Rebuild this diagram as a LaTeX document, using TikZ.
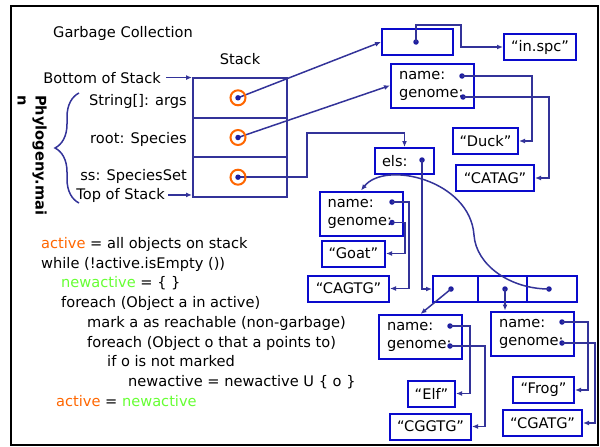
\documentclass[tikz,border=0pt]{standalone}
\usepackage{fontspec}
\setmainfont{DejaVu Sans}
\usetikzlibrary{arrows.meta,decorations.pathreplacing,calc}
\definecolor{linkblue}{RGB}{51,51,153}
\definecolor{boxblue}{RGB}{10,10,204}
\definecolor{dotblue}{RGB}{30,30,160}
\definecolor{actorange}{RGB}{255,102,0}
\definecolor{newgreen}{RGB}{102,255,51}
\begin{document}
\begin{tikzpicture}[x=1pt,y=-1pt,
  every node/.style={font=\fontsize{14.6}{18}\selectfont, text=black},
  conn/.style={draw=linkblue, line width=1.5pt, -{Latex[length=6pt,width=5pt]}},
  cell/.style={draw=linkblue, line width=2pt, minimum width=94pt, minimum height=39.7pt, inner sep=0},
  objbox/.style={draw=boxblue, line width=2pt, inner sep=0, minimum height=26pt},
  spbox/.style={draw=boxblue, line width=2pt, minimum width=83pt, minimum height=44pt,
    text width=67pt, inner xsep=8pt, inner ysep=0pt, align=left},
  ptr/.style={circle, fill=dotblue, inner sep=0, minimum size=5.5pt},
  stackref/.style={circle, draw=actorange, line width=2pt, inner sep=0, minimum size=15pt},
  codeline/.style={anchor=base west, inner sep=0},
  stacklabel/.style={anchor=base east, inner sep=0}
]
\useasboundingbox (0,0) rectangle (600,447);
% outer frame
\draw[line width=2pt] (11,6) rectangle (598,445);

% headings
\node[anchor=base west, inner sep=0] (title) at (53,37.3) {Garbage Collection};
\node[anchor=base, inner sep=0] (stk) at (240,64) {Stack};

% the stack frame of Phylogeny.main
\node[cell] (cell1) at (240,97.8) {};
\node[cell] (cell2) at (240,137.5) {};
\node[cell] (cell3) at (240,177.2) {};

\node[stacklabel] (bos) at (161,83) {Bottom of Stack};
\node[stacklabel] (lab1) at (187,105.5) {String[]: args};
\node[stacklabel] (lab2) at (187,143) {root: Species};
\node[stacklabel] (lab3) at (187,180) {ss: SpeciesSet};
\node[stacklabel] (tos) at (165,199) {Top of Stack};
\draw[conn, shorten <=5pt] (bos.east) -- (bos.east -| cell1.west);
\draw[conn, shorten <=3pt] (tos.east) -- (tos.east -| cell3.west);

\draw[draw=linkblue, line width=1.5pt, decorate, decoration={brace, amplitude=24pt}]
  (79,203) -- (79,93);
\node[rotate=-90, anchor=north west, align=left, inner sep=0,
  font=\fontsize{14.6}{18}\selectfont\bfseries] (meth) at (47,95) {Phylogeny.mai\\n};

% heap objects
\node[objbox, minimum width=71pt] (argbox) at (417.5,42) {};
\node[ptr] (argdot) at (416,42) {};
\node[objbox, minimum width=72pt] (inspc) at (540,47) {“in.spc”};

\node[spbox] (rbox) at (432.5,85.5) {name:\\genome:};
\node[ptr] (rn) at (462,76) {};
\node[ptr] (rg) at (463,97) {};
\node[objbox, minimum width=65pt] (duck) at (485.5,141) {“Duck”};
\node[objbox, minimum width=78pt] (catag) at (495,178) {“CATAG”};

\node[objbox, minimum width=59pt, text width=45pt, inner xsep=7pt, align=left] (els) at (404.5,161) {els:};
\node[ptr] (eldot) at (422,160) {};

\node[objbox, minimum width=45pt] (arr1) at (455.5,289) {};
\node[objbox, minimum width=49pt] (arr2) at (502.5,289) {};
\node[objbox, minimum width=50pt] (arr3) at (552,289) {};
\node[ptr] (a1) at (451,289) {};
\node[ptr] (a2) at (505,289) {};
\node[ptr] (a3) at (549,289) {};

\node[spbox] (gbox) at (361,213.5) {name:\\genome:};
\node[ptr] (gn) at (392,202) {};
\node[ptr] (gg) at (392,222.5) {};
\node[objbox, minimum width=63pt] (goat) at (353.5,253.5) {“Goat”};
\node[objbox, minimum width=81pt] (cagtg) at (348.5,288.5) {“CAGTG”};

\node[spbox] (ebox) at (420.5,337) {name:\\genome:};
\node[ptr] (en) at (450,326) {};
\node[ptr] (eg) at (450,346) {};
\node[objbox, minimum width=47pt] (elf) at (431.5,393.5) {“Elf”};
\node[objbox, minimum width=81pt] (cggtg) at (430.5,426.5) {“CGGTG”};

\node[spbox] (fbox) at (532.5,333.5) {name:\\genome:};
\node[ptr] (fn) at (562,322) {};
\node[ptr] (fg) at (562,343) {};
\node[objbox, minimum width=61pt] (frog) at (543.5,390) {“Frog”};
\node[objbox, minimum width=79pt] (cgatg) at (542.5,423) {“CGATG”};

% references held by the stack
\draw[conn] (238,97.8) -- (argbox.west);
\draw[conn] (238,137.5) -- (rbox.west);
\draw[conn] (238,177.2) -| ++(69,-44) -| (els.north);
\node[stackref] (oc1) at (238,97.8) {};
\node[stackref] (oc2) at (238,137.5) {};
\node[stackref] (oc3) at (238,177.2) {};
\node[ptr] (sd1) at (oc1) {};
\node[ptr] (sd2) at (oc2) {};
\node[ptr] (sd3) at (oc3) {};

% references between heap objects
\draw[conn] (argdot.center) -- ++(0,-17) -| ($(inspc.west)+(-42,0)$) -- (inspc.west);
\draw[conn] (rn.center) -- ++(70,0) |- (duck.east);
\draw[conn] (rg.center) -- ++(86,0) |- (catag.east);
\draw[conn] (eldot.center) |- (arr1.west);
\draw[conn] (a1.center) -- (ebox.north);
\draw[conn] (a2.center) -- (a2.center |- fbox.north);
\draw[conn] (a3.center) .. controls (510,289) and (476,265) .. (474,235)
  .. controls (470,180) and (385,160) .. (gbox.north);
\draw[conn] (gn.center) -- ++(17,0) |- (cagtg.east);
\draw[conn] (gg.center) -- ++(13,0) |- (goat.east);
\draw[conn] (en.center) -- ++(20,0) |- (elf.east);
\draw[conn] (eg.center) -- ++(35,0) |- (cggtg.east);
\draw[conn] (fn.center) -- ++(26,0) |- (frog.east);
\draw[conn] (fg.center) -- ++(33,0) |- (cgatg.east);

% the marking algorithm
\node[codeline] (c1) at (41,248.3) {\textcolor{actorange}{active} = all objects on stack};
\node[codeline] (c2) at (41,268) {while (!active.isEmpty ())};
\node[codeline] (c3) at (61,287.8) {\textcolor{newgreen}{newactive} = \{ \}};
\node[codeline] (c4) at (61,307.5) {foreach (Object a in active)};
\node[codeline] (c5) at (87,327.3) {mark a as reachable (non-garbage)};
\node[codeline] (c6) at (87,347) {foreach (Object o that a points to)};
\node[codeline] (c7) at (107,366.8) {if o is not marked};
\node[codeline] (c8) at (128,386.5) {newactive = newactive U \{ o \}};
\node[codeline] (c9) at (56,406.3) {\textcolor{actorange}{active} = \textcolor{newgreen}{newactive}};
\end{tikzpicture}
\end{document}
